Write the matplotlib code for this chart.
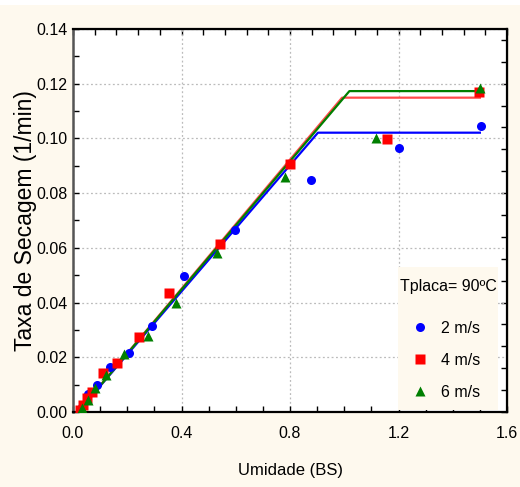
import numpy as np
import matplotlib
matplotlib.use("Agg")
import matplotlib.pyplot as plt
from matplotlib.patches import Rectangle
from matplotlib.lines import Line2D

FONT = ['Liberation Sans Narrow', 'Liberation Sans', 'DejaVu Sans']
plt.rcParams['font.family'] = FONT

# ---- data ----
x_2ms = [0.035, 0.056, 0.0895, 0.136, 0.206, 0.2895, 0.41, 0.596, 0.876, 1.2, 1.504]
y_2ms = [0.002, 0.0065, 0.0099, 0.0166, 0.0215, 0.0316, 0.0497, 0.0665, 0.0848, 0.0964, 0.1046]
x_4ms = [0.026, 0.038, 0.05, 0.069, 0.1116, 0.164, 0.243, 0.353, 0.541, 0.7985, 1.158, 1.498]
y_4ms = [0.0007, 0.0026, 0.005, 0.0074, 0.0141, 0.0178, 0.0275, 0.0434, 0.0613, 0.0906, 0.0999, 0.1168]
x_6ms = [0.032, 0.056, 0.08, 0.122, 0.188, 0.275, 0.379, 0.532, 0.78, 1.1175, 1.5]
y_6ms = [0.0014, 0.0044, 0.0089, 0.0137, 0.0211, 0.0278, 0.0397, 0.0582, 0.0858, 0.1001, 0.1183]

# fitted piecewise-linear curves (start, knee, end)
fit_x_2ms = [0.018, 0.903, 1.5]
fit_y_2ms = [0.0, 0.1021, 0.1021]
fit_x_4ms = [0.018, 0.992, 1.5]
fit_y_4ms = [0.0, 0.1149, 0.1149]
fit_x_6ms = [0.018, 1.019, 1.5]
fit_y_6ms = [0.0, 0.1173, 0.1173]

labels = ['2 m/s', '4 m/s', '6 m/s']
legend_title = 'Tplaca= 90ºC'
xlabel = 'Umidade (BS)'
ylabel = 'Taxa de Secagem (1/min)'
xticks = [0.0, 0.4, 0.8, 1.2, 1.6]
yticks = [0.00, 0.02, 0.04, 0.06, 0.08, 0.10, 0.12, 0.14]

CREAM = '#FEF9EE'
BLUE = '#0000FF'
RED = '#FF0000'
REDLINE = '#FF4A4A'
GREEN = '#007F00'

W, H = 520, 487
fig = plt.figure(figsize=(W / 100, H / 100), dpi=100, facecolor='white')
fig.patches.append(Rectangle((0, 0), 1, 482 / H, transform=fig.transFigure,
                             facecolor=CREAM, edgecolor='none', zorder=-10))

ax = fig.add_axes([73 / W, (H - 412) / H, (507 - 73) / W, (412 - 29) / H])
ax.set_facecolor('white')

ax.plot(fit_x_2ms, fit_y_2ms, color=BLUE, lw=1.6, zorder=3)
ax.plot(fit_x_4ms, fit_y_4ms, color=REDLINE, lw=1.6, zorder=3)
ax.plot(fit_x_6ms, fit_y_6ms, color=GREEN, lw=1.6, zorder=3)

ax.plot(x_2ms, y_2ms, 'o', color=BLUE, ms=6.5, mec='none', zorder=4)
ax.plot(x_4ms, y_4ms, 's', color=RED, ms=6.8, mec='none', zorder=4)
ax.plot(x_6ms, y_6ms, '^', color=GREEN, ms=6.5, mec='none', zorder=4)

ax.set_xlim(0, 1.6)
ax.set_ylim(0, 0.14)
ax.set_xticks(xticks)
ax.set_xticklabels([f'{v:.1f}' for v in xticks])
ax.set_yticks(yticks)
ax.set_yticklabels([f'{v:.2f}' for v in yticks])
ax.set_xticks(np.arange(0, 1.6001, 0.1), minor=True)
ax.set_yticks(np.arange(0, 0.14001, 0.01), minor=True)
ax.tick_params(which='both', direction='in', length=4, width=1, labelsize=11.5,
               colors='black', top=False, right=False)
ax.tick_params(axis='x', pad=10)
ax.tick_params(axis='y', pad=4)
ax.grid(True, which='major', linestyle=(0, (1.5, 2)), color='#BBBBBB', lw=0.9)

for s in ['top', 'right', 'bottom']:
    ax.spines[s].set_color('black')
    ax.spines[s].set_linewidth(1.6)
ax.spines['left'].set_color('#555555')
ax.spines['left'].set_linewidth(1.8)

secx = ax.secondary_xaxis('top')
secx.set_xticks(np.arange(0, 1.6001, 0.08))
secx.tick_params(direction='in', length=4, width=1, labeltop=False)
secy = ax.secondary_yaxis('right')
secy.set_yticks(np.arange(0, 0.14001, 0.008))
secy.tick_params(direction='in', length=4, width=1, labelright=False)

ax.set_xlabel(xlabel, fontsize=12, labelpad=16)
ax.set_ylabel(ylabel, fontsize=16.5)
ax.yaxis.set_label_coords((37 - 73) / (507 - 73), 0.5)

# legend box
bx0, bx1 = (398 - 73) / (507 - 73), (498 - 73) / (507 - 73)
by0, by1 = (412 - 410) / (412 - 29), (412 - 267) / (412 - 29)
ax.add_patch(Rectangle((bx0, by0), bx1 - bx0, by1 - by0, transform=ax.transAxes,
                       facecolor=CREAM, edgecolor='none', zorder=5))
ax.text((bx0 + bx1) / 2, (412 - 286) / (412 - 29), legend_title,
        transform=ax.transAxes, ha='center', va='center', fontsize=11.5, zorder=6)
handles = [Line2D([], [], ls='none', marker='o', color=BLUE, ms=6.5, mec='none'),
           Line2D([], [], ls='none', marker='s', color=RED, ms=6.8, mec='none'),
           Line2D([], [], ls='none', marker='^', color=GREEN, ms=6.5, mec='none')]
leg = ax.legend(handles, labels, loc='upper left',
                bbox_to_anchor=((410 - 73) / (507 - 73), (412 - 321) / (412 - 29)),
                frameon=False, fontsize=11.5, labelspacing=1.05, handlelength=1.2,
                handletextpad=0.75, borderpad=0, borderaxespad=0)
leg.set_zorder(7)

fig.savefig('out.png', dpi=100, facecolor=fig.get_facecolor())
